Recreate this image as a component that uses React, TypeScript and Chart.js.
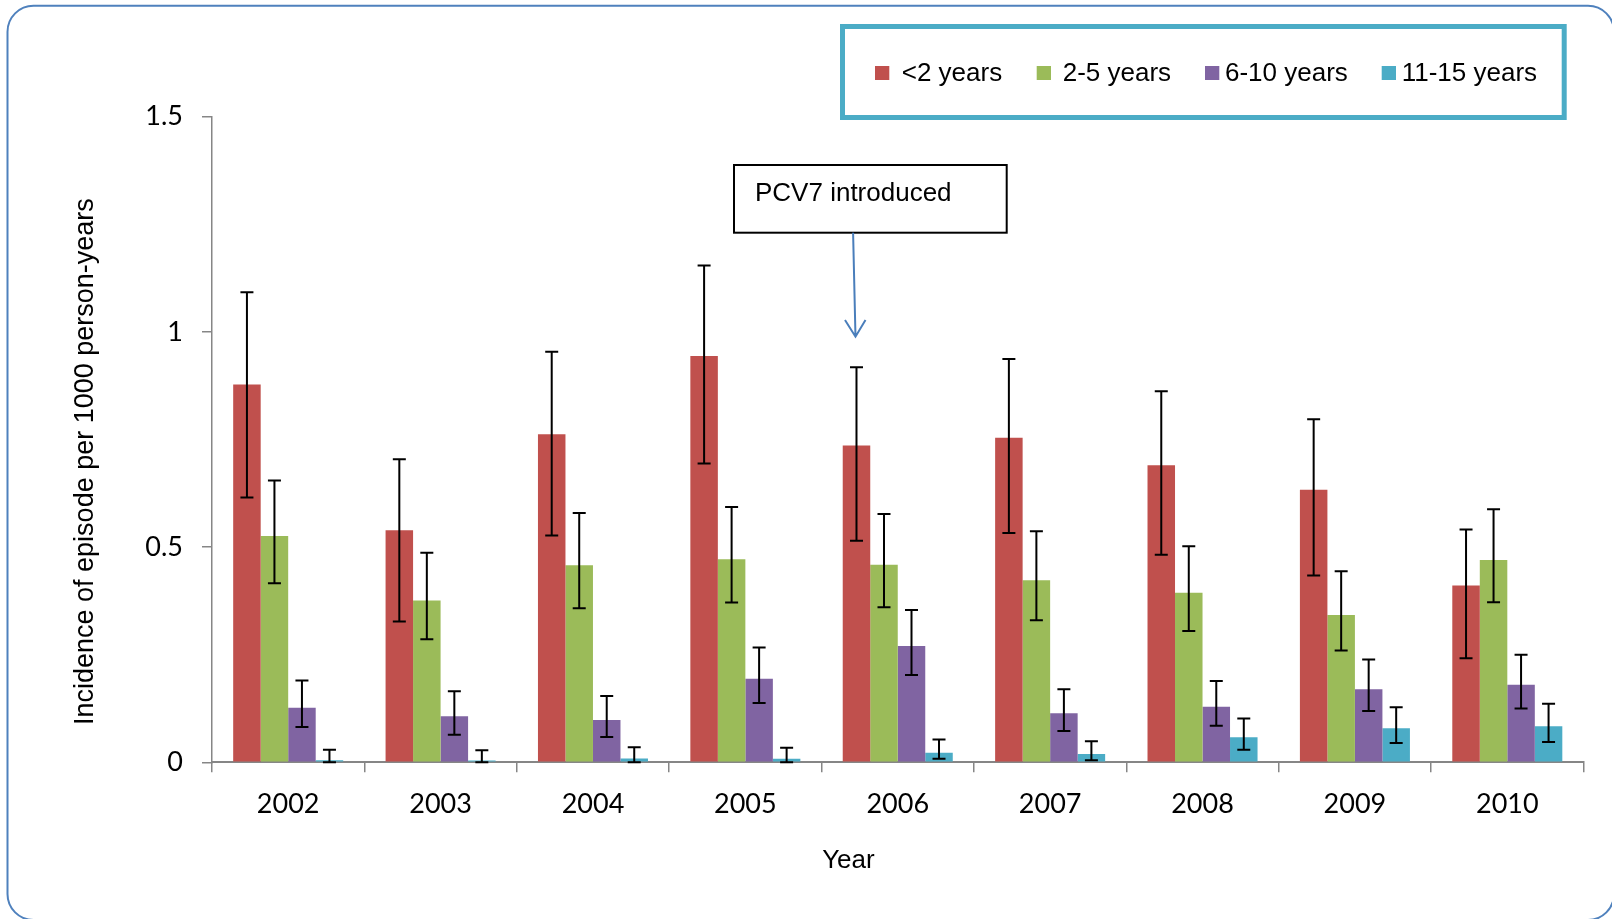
import React, { useEffect, useRef } from 'react';
import { Chart, registerables } from 'chart.js';

Chart.register(...registerables);

// Study years on the category axis
const years = ['2002', '2003', '2004', '2005', '2006', '2007', '2008', '2009', '2010'];

// Age-group labels
const groupLabels = ['<2 years', '2-5 years', '6-10 years', '11-15 years'];

// Incidence per 1000 person-years, with 95% CI bounds
const under2 = [0.878, 0.539, 0.762, 0.944, 0.736, 0.754, 0.69, 0.633, 0.411];
const under2Low = [0.615, 0.327, 0.527, 0.694, 0.515, 0.533, 0.482, 0.434, 0.242];
const under2High = [1.092, 0.704, 0.954, 1.154, 0.918, 0.937, 0.862, 0.797, 0.541];

const age2to5 = [0.526, 0.376, 0.458, 0.472, 0.459, 0.423, 0.394, 0.342, 0.47];
const age2to5Low = [0.416, 0.286, 0.358, 0.371, 0.36, 0.33, 0.305, 0.26, 0.372];
const age2to5High = [0.655, 0.487, 0.579, 0.593, 0.577, 0.537, 0.502, 0.444, 0.588];

const age6to10 = [0.127, 0.107, 0.098, 0.194, 0.27, 0.114, 0.129, 0.17, 0.18];
const age6to10Low = [0.082, 0.064, 0.059, 0.138, 0.203, 0.073, 0.085, 0.119, 0.125];
const age6to10High = [0.19, 0.165, 0.154, 0.267, 0.354, 0.17, 0.189, 0.239, 0.25];

const age11to15 = [0.005, 0.004, 0.009, 0.008, 0.022, 0.019, 0.058, 0.079, 0.084];
const age11to15Low = [0, 0, 0, 0, 0.008, 0.005, 0.029, 0.045, 0.047];
const age11to15High = [0.029, 0.028, 0.035, 0.034, 0.053, 0.049, 0.102, 0.128, 0.136];

// Y axis tick values
const yTicks = [0, 0.5, 1, 1.5];

const seriesValues = [under2, age2to5, age6to10, age11to15];
const seriesLow = [under2Low, age2to5Low, age6to10Low, age11to15Low];
const seriesHigh = [under2High, age2to5High, age6to10High, age11to15High];
const seriesColors = ['#C0504D', '#9BBB59', '#8064A2', '#4BACC6'];

const ARIAL = '"Liberation Sans", Arial, sans-serif';
const AXIS_GREY = '#868686';

// Confidence-interval whiskers on top of every bar
const errorBarPlugin = {
  id: 'errorBars',
  afterDatasetsDraw(chart: any) {
    const { ctx } = chart;
    const yScale = chart.scales.y;
    ctx.save();
    ctx.strokeStyle = '#000';
    ctx.lineWidth = 2;
    chart.data.datasets.forEach((_ds: any, i: number) => {
      const meta = chart.getDatasetMeta(i);
      meta.data.forEach((bar: any, j: number) => {
        const x = bar.x;
        const yHi = yScale.getPixelForValue(seriesHigh[i][j]);
        const yLo = yScale.getPixelForValue(seriesLow[i][j]);
        const cap = 6.5;
        ctx.beginPath();
        ctx.moveTo(x, yHi);
        ctx.lineTo(x, yLo);
        ctx.moveTo(x - cap, yHi);
        ctx.lineTo(x + cap, yHi);
        ctx.moveTo(x - cap, yLo);
        ctx.lineTo(x + cap, yLo);
        ctx.stroke();
      });
    });
    ctx.restore();
  },
};

// Outer frame, legend box, axis titles and the PCV7 call-out
const decorPlugin = {
  id: 'decor',
  afterDraw(chart: any) {
    const { ctx } = chart;
    ctx.save();

    // rounded outer frame
    ctx.strokeStyle = '#4F81BD';
    ctx.lineWidth = 2;
    ctx.beginPath();
    ctx.roundRect(7.5, 5.8, 1606.5, 914.2, 26);
    ctx.stroke();

    // legend box
    ctx.strokeStyle = '#4BACC6';
    ctx.lineWidth = 5;
    ctx.strokeRect(842.5, 26.5, 721.7, 91);

    const swatchX = [875, 1036.7, 1205, 1381.7];
    const textX = [901.7, 1062.7, 1225, 1401.7];
    ctx.font = `26px ${ARIAL}`;
    ctx.textBaseline = 'alphabetic';
    ctx.textAlign = 'left';
    chart.data.datasets.forEach((ds: any, i: number) => {
      ctx.fillStyle = ds.backgroundColor;
      ctx.fillRect(swatchX[i], 66, 14.3, 14);
      ctx.fillStyle = '#000';
      ctx.fillText(ds.label, textX[i], 81);
    });

    // y axis title
    ctx.save();
    ctx.translate(93, 461.6);
    ctx.rotate(-Math.PI / 2);
    ctx.font = `27px ${ARIAL}`;
    ctx.textAlign = 'center';
    ctx.fillStyle = '#000';
    ctx.fillText('Incidence of episode per 1000 person-years', 0, 0);
    ctx.restore();

    // x axis title
    ctx.font = `26px ${ARIAL}`;
    ctx.textAlign = 'center';
    ctx.fillStyle = '#000';
    ctx.fillText('Year', 848.4, 868.3);

    // call-out box
    ctx.strokeStyle = '#000';
    ctx.lineWidth = 2;
    ctx.strokeRect(734, 165, 272.7, 67.7);
    ctx.textAlign = 'left';
    ctx.fillText('PCV7 introduced', 755, 200.7);

    // arrow pointing at the 2006 <2 years bar
    const bar2006 = chart.getDatasetMeta(0).data[4];
    const tipX = bar2006.x - 1;
    const tipY = 336.7;
    ctx.strokeStyle = '#4A7EBB';
    ctx.lineWidth = 2;
    ctx.beginPath();
    ctx.moveTo(tipX - 2.4, 232.7);
    ctx.lineTo(tipX, tipY);
    ctx.moveTo(tipX - 10.5, tipY - 16.7);
    ctx.lineTo(tipX, tipY);
    ctx.lineTo(tipX + 10, tipY - 16.7);
    ctx.stroke();

    ctx.restore();
  },
};

export default function App() {
  const canvasRef = useRef<HTMLCanvasElement>(null);

  useEffect(() => {
    const canvas = canvasRef.current;
    if (!canvas) return;

    const chart = new Chart(canvas, {
      type: 'bar',
      data: {
        labels: years,
        datasets: seriesValues.map((values, i) => ({
          label: groupLabels[i],
          data: values,
          backgroundColor: seriesColors[i],
          borderWidth: 0,
          barPercentage: 1,
          categoryPercentage: 0.722,
        })),
      },
      options: {
        responsive: false,
        animation: false,
        devicePixelRatio: 1,
        layout: { padding: { left: 0, top: 116.7, right: 28.5, bottom: 0 } },
        plugins: {
          legend: { display: false },
          tooltip: { enabled: false },
        },
        scales: {
          x: {
            grid: {
              drawOnChartArea: false,
              drawTicks: true,
              tickLength: 10,
              color: AXIS_GREY,
              lineWidth: 1.5,
            },
            border: { display: true, color: AXIS_GREY, width: 2 },
            ticks: {
              color: '#000',
              font: { family: 'Lato', size: 27 },
              padding: 16,
              autoSkip: false,
              maxRotation: 0,
            },
            afterFit: (scale: any) => {
              scale.height = 919 - 762.3;
            },
          },
          y: {
            min: 0,
            max: 1.5,
            afterBuildTicks: (scale: any) => {
              scale.ticks = yTicks.map((v) => ({ value: v }));
            },
            grid: {
              drawOnChartArea: false,
              drawTicks: true,
              tickLength: 10,
              color: AXIS_GREY,
              lineWidth: 1.5,
            },
            border: { display: true, color: AXIS_GREY, width: 1.5 },
            ticks: {
              color: '#000',
              font: { family: 'Lato', size: 27 },
              padding: 19,
              callback: (v: any) => String(v),
            },
            afterFit: (scale: any) => {
              scale.width = 212;
            },
          },
        },
      },
      plugins: [errorBarPlugin, decorPlugin],
    });

    return () => chart.destroy();
  }, []);

  return (
    <div style={{ position: 'absolute', left: 0, top: 0, width: 1612, height: 919, background: '#fff' }}>
      <canvas ref={canvasRef} width={1612} height={919} style={{ display: 'block', width: 1612, height: 919 }} />
    </div>
  );
}
